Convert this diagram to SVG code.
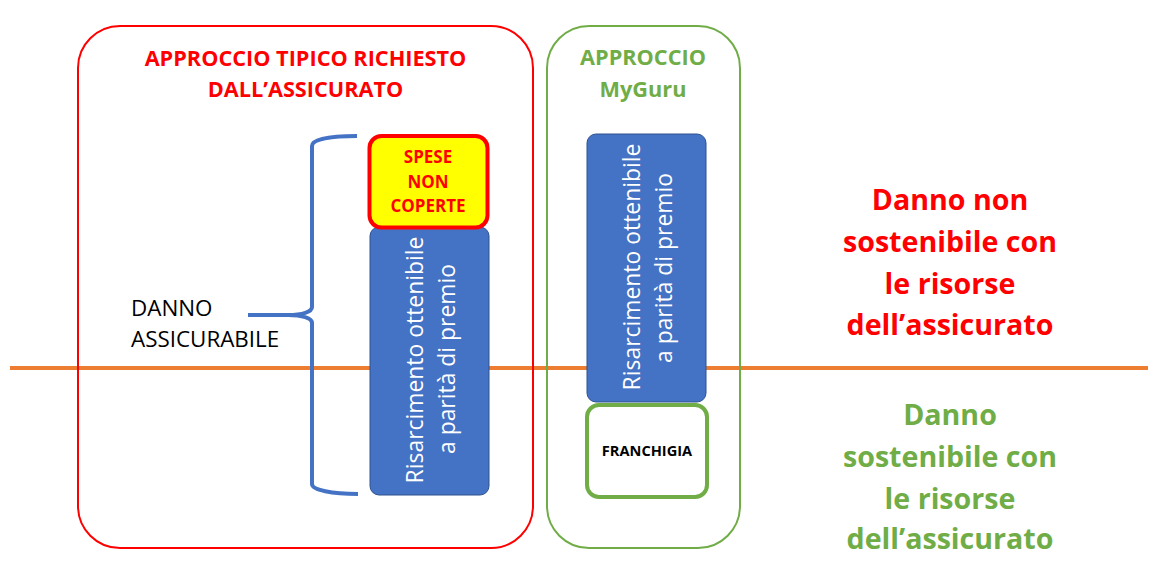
<svg xmlns="http://www.w3.org/2000/svg" width="1159" height="569" viewBox="0 0 1159 569">
<style>
text{font-family:"Open Sans","Liberation Sans",sans-serif;text-anchor:middle}
.b{font-weight:700}
.r{fill:#f00}.g{fill:#70ad47}
.w{fill:#fff;font-size:22.9px}
.h{font-size:21.7px;font-weight:700}
.s{font-size:28.6px;font-weight:700}
.blue{fill:#4472c4;stroke:#2f528f;stroke-width:1}
</style>
<rect width="1159" height="569" fill="#fff"/>
<g id="connectors"><path d="M10 368H1148" stroke="#ed7d31" stroke-width="4" fill="none"/>
<path d="M357 136C332 136 312 139 312 146V307C312 312 302 315 288 315H248H288C302 315 312 318 312 323V484C312 490 332 494 358 494" stroke="#4472c4" stroke-width="4" fill="none"/></g>
<g id="red-panel"><rect x="78" y="26" width="455" height="522" rx="42" fill="none" stroke="#f00" stroke-width="2"/>
<text class="h r" x="305.500" y="66">APPROCCIO TIPICO RICHIESTO</text><text class="h r" x="305.500" y="97">DALL’ASSICURATO</text></g>
<g id="green-panel"><rect x="547" y="26" width="193" height="522" rx="42" fill="none" stroke="#70ad47" stroke-width="2"/>
<text class="h g" x="643" y="65">APPROCCIO</text><text class="h g" x="643" y="97">MyGuru</text></g>
<g id="danno"><text x="131" y="316" font-size="22.400" style="text-anchor:start">DANNO</text><text x="131" y="347" font-size="22.400" style="text-anchor:start">ASSICURABILE</text></g>
<g id="risarcimento-left"><rect class="blue" x="370" y="227" width="119" height="268" rx="9"/>
<text class="w" transform="translate(423 360) rotate(-90)">Risarcimento ottenibile</text><text class="w" transform="translate(455 359) rotate(-90)">a parità di premio</text></g>
<g id="spese"><rect x="369.500" y="136" width="118" height="91.500" rx="12" fill="#ff0" stroke="#f00" stroke-width="4"/>
<text class="b r" font-size="17" x="428" y="163">SPESE</text><text class="b r" font-size="17" x="428" y="188">NON</text><text class="b r" font-size="17" x="428" y="212">COPERTE</text></g>
<g id="risarcimento-right"><rect class="blue" x="587" y="134" width="119" height="268" rx="9"/>
<text class="w" transform="translate(640 267) rotate(-90)">Risarcimento ottenibile</text><text class="w" transform="translate(672 268) rotate(-90)">a parità di premio</text></g>
<g id="franchigia"><rect x="587" y="405" width="120" height="92" rx="12" fill="#fff" stroke="#70ad47" stroke-width="4"/>
<text class="b" font-size="14.600" x="647" y="456">FRANCHIGIA</text></g>
<g id="danno-non"><text class="s r" x="950" y="210">Danno non</text><text class="s r" x="950" y="252">sostenibile con</text><text class="s r" x="950" y="294">le risorse</text><text class="s r" x="950" y="335">dell’assicurato</text></g>
<g id="danno-si"><text class="s g" x="950" y="425">Danno</text><text class="s g" x="950" y="467">sostenibile con</text><text class="s g" x="950" y="509">le risorse</text><text class="s g" x="950" y="549">dell’assicurato</text></g>
</svg>
